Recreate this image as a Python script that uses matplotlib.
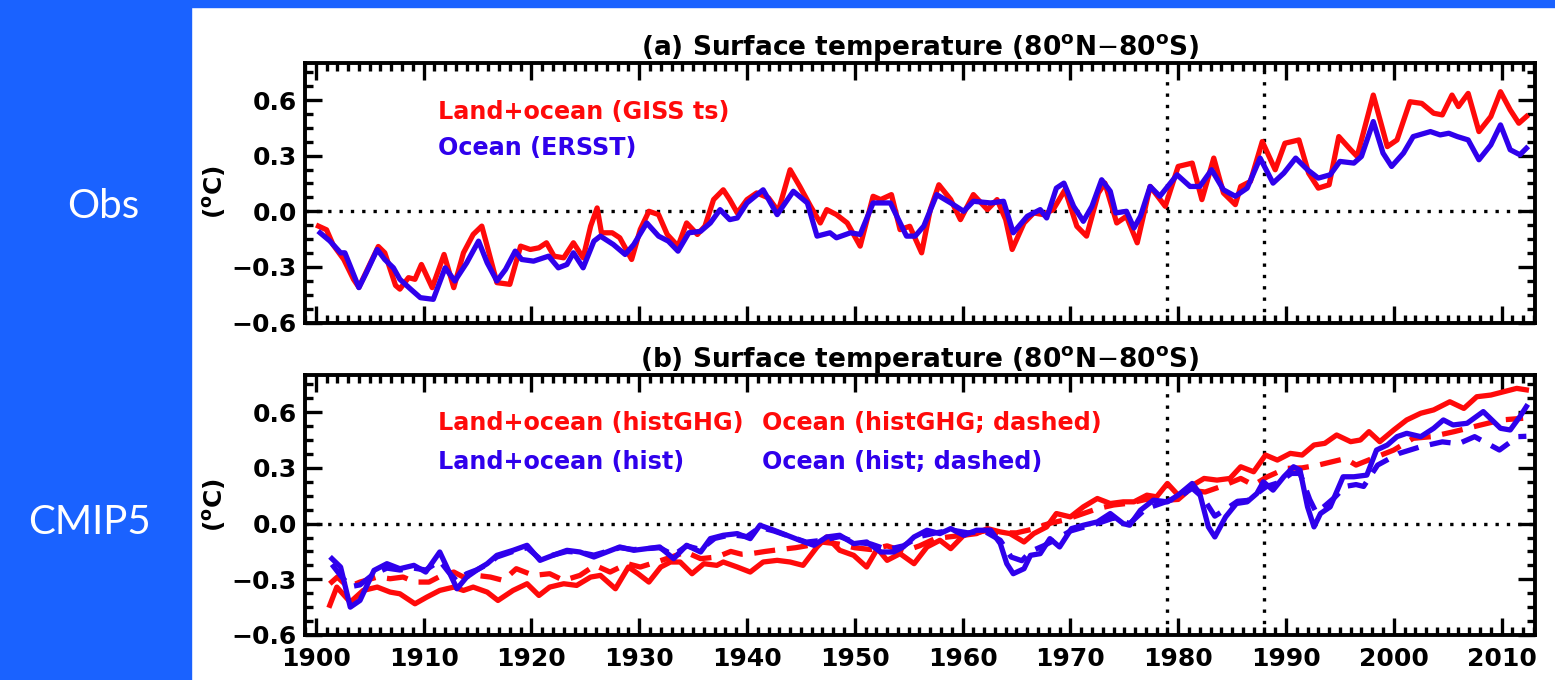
import numpy as np
import matplotlib
matplotlib.use("Agg")
import matplotlib.pyplot as plt
from matplotlib.patches import Rectangle
from matplotlib.ticker import MultipleLocator

# --- Panel (a): observations ---
a_land_yr = [1900.25, 1901.0, 1901.6, 1902.6, 1903.5, 1904.0, 1904.9, 1905.8, 1906.4, 1907.4,
             1907.8, 1908.6, 1909.2, 1909.8, 1910.8, 1911.9, 1912.8, 1913.7, 1914.6, 1915.4,
             1915.9, 1916.8, 1918.0, 1919.0, 1919.9, 1920.7, 1921.4, 1922.1, 1923.0, 1923.9,
             1924.8, 1925.5, 1926.1, 1926.5, 1927.5, 1928.2, 1929.3, 1930.1, 1930.9, 1931.8,
             1932.6, 1933.6, 1934.4, 1935.4, 1936.1, 1936.9, 1937.8, 1938.4, 1939.1, 1940.0,
             1940.9, 1942.0, 1942.9, 1944.0, 1944.9, 1945.9, 1946.8, 1947.4, 1948.3, 1949.3,
             1950.5, 1951.7, 1952.4, 1953.4, 1954.2, 1955.1, 1956.2, 1957.0, 1957.8, 1958.9,
             1959.8, 1961.0, 1962.3, 1963.2, 1964.0, 1964.6, 1965.7, 1966.6, 1967.5, 1968.4,
             1969.5, 1970.6, 1971.5, 1972.6, 1973.2, 1974.3, 1975.2, 1976.2, 1977.4, 1978.8,
             1980.0, 1981.3, 1982.2, 1983.3, 1984.2, 1985.3, 1985.8, 1986.7, 1987.8, 1989.0,
             1989.9, 1991.2, 1992.1, 1993.0, 1994.0, 1994.9, 1996.0, 1996.6, 1998.1, 1999.4,
             2000.3, 2001.5, 2002.6, 2003.7, 2004.5, 2005.4, 2006.0, 2006.9, 2007.9, 2009.0,
             2009.9, 2010.8, 2011.6, 2012.3]
a_land_val = [-0.08, -0.10, -0.18, -0.26, -0.367, -0.41, -0.30, -0.19, -0.224, -0.40,
              -0.42, -0.358, -0.367, -0.287, -0.412, -0.233, -0.412, -0.224, -0.125, -0.08,
              -0.188, -0.385, -0.394, -0.188, -0.206, -0.197, -0.17, -0.242, -0.251, -0.17,
              -0.251, -0.08, 0.018, -0.116, -0.116, -0.143, -0.26, -0.098, 0.0, -0.018,
              -0.125, -0.188, -0.063, -0.125, -0.08, 0.063, 0.116, 0.063, -0.009, 0.063,
              0.099, 0.072, 0.0, 0.224, 0.134, 0.027, -0.063, 0.009, -0.018, -0.063,
              -0.188, 0.081, 0.063, 0.09, -0.099, -0.081, -0.224, 0.009, 0.143, 0.063,
              -0.045, 0.09, 0.009, 0.063, -0.045, -0.206, -0.063, -0.009, -0.018, 0.009,
              0.116, -0.081, -0.134, 0.099, 0.152, -0.063, -0.027, -0.17, 0.134, 0.027,
              0.242, 0.26, 0.063, 0.287, 0.099, 0.036, 0.134, 0.161, 0.376, 0.224,
              0.367, 0.385, 0.206, 0.125, 0.143, 0.403, 0.332, 0.296, 0.627, 0.349,
              0.385, 0.591, 0.582, 0.529, 0.52, 0.627, 0.565, 0.636, 0.43, 0.511,
              0.645, 0.547, 0.475, 0.511]

a_ocean_yr = [1900.4, 1901.3, 1902.3, 1902.7, 1903.2, 1904.0, 1904.7, 1905.7, 1906.4, 1907.2,
              1907.8, 1908.8, 1909.7, 1910.9, 1912.0, 1912.9, 1914.0, 1915.1, 1915.9, 1916.8,
              1917.6, 1918.5, 1919.1, 1920.2, 1921.6, 1922.5, 1923.3, 1923.9, 1924.8, 1925.8,
              1926.4, 1927.6, 1928.7, 1929.5, 1930.7, 1931.8, 1932.7, 1933.6, 1934.6, 1935.7,
              1936.6, 1937.5, 1938.4, 1939.1, 1940.0, 1941.5, 1942.8, 1944.3, 1945.6, 1946.5,
              1947.7, 1948.3, 1949.6, 1950.5, 1951.7, 1953.3, 1954.8, 1955.6, 1956.4, 1957.6,
              1958.9, 1960.1, 1961.0, 1962.6, 1963.8, 1964.7, 1966.0, 1967.2, 1967.8, 1968.7,
              1969.4, 1970.3, 1971.2, 1972.0, 1972.9, 1973.7, 1974.2, 1975.2, 1975.9, 1976.5,
              1977.4, 1978.3, 1979.9, 1981.1, 1982.0, 1983.1, 1984.2, 1985.3, 1986.4, 1987.6,
              1988.8, 1989.8, 1990.9, 1992.0, 1993.0, 1994.1, 1995.0, 1996.3, 1997.0, 1998.1,
              1999.0, 1999.8, 2000.9, 2001.8, 2003.4, 2004.3, 2005.1, 2005.9, 2006.9, 2007.9,
              2009.0, 2009.9, 2010.8, 2011.7, 2012.3]
a_ocean_val = [-0.116, -0.16, -0.224, -0.224, -0.296, -0.412, -0.33, -0.206, -0.26, -0.305,
               -0.367, -0.42, -0.466, -0.475, -0.305, -0.376, -0.278, -0.161, -0.278, -0.376,
               -0.314, -0.215, -0.26, -0.269, -0.242, -0.305, -0.287, -0.224, -0.305, -0.161,
               -0.134, -0.179, -0.233, -0.179, -0.063, -0.134, -0.161, -0.215, -0.116, -0.108,
               -0.063, 0.009, -0.045, -0.036, 0.045, 0.116, -0.018, 0.108, 0.045, -0.134,
               -0.116, -0.143, -0.116, -0.125, 0.045, 0.045, -0.134, -0.134, -0.08, 0.09,
               0.045, 0.0, 0.054, 0.045, 0.054, -0.116, -0.027, 0.009, -0.036, 0.125,
               0.152, 0.027, -0.054, 0.027, 0.17, 0.108, -0.009, 0.0, -0.09, -0.027,
               0.134, 0.081, 0.197, 0.134, 0.134, 0.224, 0.116, 0.081, 0.125, 0.287,
               0.152, 0.206, 0.287, 0.224, 0.179, 0.197, 0.269, 0.26, 0.296, 0.484,
               0.314, 0.242, 0.314, 0.403, 0.43, 0.412, 0.421, 0.403, 0.385, 0.278,
               0.358, 0.466, 0.332, 0.305, 0.34]

# --- Panel (b): CMIP5 multi-model means ---
b_ghg_land_yr = [1901.3, 1901.95, 1903.2, 1904.4, 1905.7, 1906.9, 1907.8, 1909.2, 1910.3, 1911.5,
                 1912.8, 1913.7, 1914.6, 1915.9, 1916.9, 1918.3, 1919.6, 1920.7, 1921.7, 1923.0,
                 1924.2, 1925.5, 1926.4, 1927.8, 1929.0, 1929.9, 1930.9, 1932.0, 1932.9, 1933.8,
                 1934.9, 1936.0, 1937.2, 1937.8, 1939.1, 1940.3, 1941.5, 1942.8, 1944.0, 1945.2,
                 1946.5, 1947.4, 1948.6, 1949.9, 1951.1, 1952.1, 1953.0, 1954.2, 1955.5, 1956.7,
                 1957.9, 1958.9, 1960.1, 1961.3, 1962.3, 1963.5, 1964.4, 1965.7, 1966.6, 1967.8,
                 1968.7, 1970.0, 1971.2, 1972.5, 1973.7, 1974.9, 1975.9, 1977.1, 1978.0, 1979.0,
                 1980.0, 1981.1, 1982.4, 1983.6, 1984.8, 1985.8, 1987.0, 1988.1, 1989.2, 1990.4,
                 1991.5, 1992.6, 1993.6, 1994.7, 1996.0, 1996.9, 1997.7, 1998.7, 2000.0, 2001.2,
                 2002.5, 2003.7, 2005.2, 2006.5, 2007.7, 2009.0, 2010.2, 2011.4, 2012.3]
b_ghg_land_val = [-0.44, -0.342, -0.423, -0.36, -0.342, -0.369, -0.378, -0.432, -0.396, -0.36,
                  -0.342, -0.36, -0.342, -0.369, -0.414, -0.36, -0.324, -0.387, -0.342, -0.324,
                  -0.333, -0.288, -0.279, -0.351, -0.234, -0.27, -0.315, -0.234, -0.207, -0.207,
                  -0.27, -0.216, -0.225, -0.207, -0.234, -0.261, -0.207, -0.198, -0.207, -0.225,
                  -0.126, -0.072, -0.144, -0.171, -0.234, -0.135, -0.198, -0.162, -0.216, -0.126,
                  -0.09, -0.135, -0.063, -0.054, -0.027, -0.045, -0.054, -0.099, -0.054, -0.018,
                  0.054, 0.036, 0.09, 0.135, 0.108, 0.117, 0.117, 0.153, 0.144, 0.216,
                  0.153, 0.198, 0.243, 0.234, 0.243, 0.306, 0.279, 0.369, 0.342, 0.378,
                  0.369, 0.423, 0.432, 0.477, 0.441, 0.45, 0.495, 0.441, 0.504, 0.558,
                  0.594, 0.612, 0.656, 0.62, 0.683, 0.692, 0.71, 0.728, 0.72]

b_ghg_ocean_yr = [1901.3, 1902.0, 1903.0, 1904.1, 1905.7, 1906.9, 1908.1, 1909.2, 1910.5, 1911.7,
                  1912.8, 1913.7, 1914.9, 1916.2, 1917.4, 1918.6, 1920.2, 1921.7, 1923.0, 1924.5,
                  1925.9, 1927.3, 1928.9, 1930.1, 1931.6, 1933.0, 1934.3, 1935.7, 1937.2, 1938.5,
                  1939.5, 1940.6, 1941.7, 1943.0, 1944.5, 1945.5, 1947.0, 1948.5, 1950.0, 1951.5,
                  1953.0, 1954.5, 1956.0, 1957.5, 1959.0, 1960.5, 1962.0, 1963.5, 1965.0, 1966.5,
                  1968.0, 1969.5, 1971.0, 1972.5, 1974.0, 1975.5, 1977.0, 1978.5, 1980.0, 1981.0,
                  1982.5, 1984.0, 1985.8, 1987.0, 1988.2, 1990.0, 1991.5, 1993.0, 1995.5, 1996.5,
                  1998.0, 2000.0, 2001.8, 2003.5, 2005.6, 2008.0, 2010.0, 2012.0]
b_ghg_ocean_val = [-0.324, -0.288, -0.342, -0.315, -0.288, -0.297, -0.288, -0.315, -0.315, -0.279,
                   -0.261, -0.288, -0.279, -0.288, -0.306, -0.243, -0.279, -0.27, -0.306, -0.279,
                   -0.225, -0.261, -0.216, -0.234, -0.207, -0.18, -0.153, -0.189, -0.18, -0.15,
                   -0.165, -0.16, -0.15, -0.14, -0.13, -0.12, -0.10, -0.11, -0.13, -0.14,
                   -0.12, -0.15, -0.12, -0.08, -0.07, -0.06, -0.04, -0.05, -0.05, -0.03,
                   0.0, 0.02, 0.05, 0.08, 0.10, 0.11, 0.13, 0.125, 0.13, 0.18,
                   0.17, 0.20, 0.243, 0.207, 0.25, 0.297, 0.30, 0.315, 0.35, 0.315,
                   0.35, 0.396, 0.459, 0.468, 0.495, 0.53, 0.558, 0.567]

b_hist_land_yr = [1901.5, 1902.3, 1903.2, 1904.1, 1905.4, 1906.6, 1907.8, 1909.1, 1910.2, 1911.5,
                  1912.3, 1913.1, 1914.0, 1914.9, 1915.9, 1916.8, 1918.3, 1919.6, 1920.8, 1922.0,
                  1923.3, 1924.5, 1925.8, 1927.0, 1928.2, 1929.5, 1930.7, 1931.9, 1933.2, 1934.4,
                  1935.7, 1936.6, 1937.8, 1939.1, 1940.3, 1941.2, 1942.5, 1943.7, 1944.9, 1946.2,
                  1947.4, 1948.6, 1949.9, 1951.1, 1952.4, 1953.6, 1954.5, 1955.5, 1956.7, 1957.9,
                  1958.9, 1960.1, 1961.3, 1962.6, 1963.5, 1964.1, 1964.7, 1965.7, 1966.3, 1967.2,
                  1968.1, 1969.0, 1970.1, 1971.2, 1972.5, 1973.7, 1974.9, 1975.5, 1976.5, 1977.7,
                  1979.0, 1980.0, 1981.3, 1982.0, 1982.8, 1983.4, 1984.4, 1985.4, 1986.4, 1987.3,
                  1987.9, 1988.8, 1989.8, 1990.7, 1991.3, 1992.0, 1992.6, 1993.2, 1994.1, 1995.3,
                  1996.3, 1997.5, 1998.4, 1999.4, 2000.3, 2001.2, 2002.5, 2003.7, 2004.6, 2005.5,
                  2006.8, 2008.3, 2009.9, 2010.8, 2011.7, 2012.3]
b_hist_land_val = [-0.189, -0.234, -0.45, -0.414, -0.252, -0.216, -0.243, -0.225, -0.261, -0.153,
                   -0.252, -0.351, -0.288, -0.252, -0.216, -0.171, -0.144, -0.117, -0.198, -0.171,
                   -0.144, -0.153, -0.18, -0.153, -0.126, -0.144, -0.135, -0.126, -0.189, -0.117,
                   -0.153, -0.081, -0.063, -0.054, -0.081, -0.009, -0.036, -0.063, -0.09, -0.117,
                   -0.072, -0.063, -0.108, -0.099, -0.153, -0.153, -0.126, -0.072, -0.036, -0.054,
                   -0.027, -0.063, -0.036, -0.036, -0.108, -0.216, -0.27, -0.243, -0.171, -0.162,
                   -0.081, -0.126, -0.027, -0.009, 0.009, 0.054, 0.0, -0.009, 0.072, 0.126,
                   0.117, 0.153, 0.216, 0.162, -0.018, -0.072, 0.036, 0.108, 0.117, 0.162,
                   0.225, 0.18, 0.252, 0.306, 0.288, 0.09, -0.018, 0.054, 0.09, 0.252,
                   0.252, 0.261, 0.396, 0.423, 0.468, 0.486, 0.468, 0.513, 0.558, 0.531,
                   0.54, 0.603, 0.513, 0.504, 0.576, 0.63]

b_hist_ocean_yr = [1901.5, 1902.3, 1903.2, 1904.1, 1905.4, 1906.6, 1907.8, 1909.1, 1910.2, 1911.5,
                   1912.3, 1913.1, 1914.0, 1914.9, 1915.9, 1916.8, 1918.3, 1919.6, 1920.8, 1922.0,
                   1923.3, 1924.5, 1925.8, 1927.0, 1928.2, 1929.5, 1930.7, 1931.9, 1933.2, 1934.4,
                   1935.7, 1937.0, 1938.5, 1940.0, 1941.2, 1942.5, 1944.0, 1945.5, 1947.0, 1948.6,
                   1950.0, 1951.5, 1953.0, 1954.5, 1956.0, 1957.5, 1959.0, 1960.5, 1962.0, 1963.5,
                   1964.5, 1965.5, 1966.3, 1967.5, 1968.5, 1970.0, 1971.2, 1972.5, 1974.0, 1975.5,
                   1977.0, 1978.5, 1980.0, 1981.3, 1982.3, 1983.4, 1984.5, 1985.5, 1986.5, 1987.5,
                   1988.2, 1989.3, 1990.5, 1991.3, 1992.2, 1992.8, 1993.5, 1994.5, 1995.5, 1996.5,
                   1997.2, 1998.5, 2000.5, 2002.5, 2004.5, 2006.0, 2007.5, 2009.8, 2011.5, 2012.3]
b_hist_ocean_val = [-0.22, -0.28, -0.34, -0.33, -0.27, -0.24, -0.25, -0.24, -0.25, -0.20,
                    -0.26, -0.31, -0.27, -0.25, -0.22, -0.18, -0.15, -0.13, -0.19, -0.17,
                    -0.15, -0.155, -0.17, -0.15, -0.13, -0.14, -0.135, -0.13, -0.17, -0.12,
                    -0.14, -0.08, -0.06, -0.07, -0.02, -0.04, -0.07, -0.10, -0.09, -0.07,
                    -0.10, -0.11, -0.14, -0.12, -0.07, -0.05, -0.035, -0.05, -0.04, -0.09,
                    -0.18, -0.20, -0.15, -0.12, -0.09, -0.04, -0.02, 0.0, 0.03, 0.0,
                    0.08, 0.11, 0.14, 0.19, 0.14, 0.04, 0.08, 0.12, 0.125, 0.17,
                    0.20, 0.22, 0.27, 0.27, 0.13, 0.06, 0.09, 0.14, 0.20, 0.21,
                    0.20, 0.315, 0.378, 0.414, 0.44, 0.43, 0.468, 0.396, 0.468, 0.47]

# marker years drawn as dotted verticals
event_years = [1979, 1988]

RED = '#ff0a0a'
BLUE = '#2f00ec'
PANEL_BLUE = '#1a62ff'

fig = plt.figure(figsize=(15.55, 6.8), dpi=100)
fig.patches.append(Rectangle((0, 0), 191 / 1555, 1, transform=fig.transFigure,
                             color=PANEL_BLUE, zorder=0))
fig.patches.append(Rectangle((0, 1 - 7 / 680), 1, 7 / 680, transform=fig.transFigure,
                             color=PANEL_BLUE, zorder=0))

ax_a = fig.add_axes([305 / 1555, 1 - 322.5 / 680, 1230 / 1555, 259.5 / 680])
ax_b = fig.add_axes([305 / 1555, 1 - 635 / 680, 1230 / 1555, 260 / 680])

ax_a.plot(a_land_yr, a_land_val, color=RED, lw=3.8, zorder=3)
ax_a.plot(a_ocean_yr, a_ocean_val, color=BLUE, lw=3.8, zorder=4)

ax_b.plot(b_ghg_land_yr, b_ghg_land_val, color=RED, lw=3.8, zorder=3)
ax_b.plot(b_ghg_ocean_yr, b_ghg_ocean_val, color=RED, lw=3.8, dashes=(4, 2.2), zorder=3)
ax_b.plot(b_hist_land_yr, b_hist_land_val, color=BLUE, lw=3.8, zorder=4)
ax_b.plot(b_hist_ocean_yr, b_hist_ocean_val, color=BLUE, lw=3.8, dashes=(4, 2.2), zorder=4)

titles = ['(a) Surface temperature (80$^{\\bf o}$N$-$80$^{\\bf o}$S)',
          '(b) Surface temperature (80$^{\\bf o}$N$-$80$^{\\bf o}$S)']

for ax, title in zip([ax_a, ax_b], titles):
    ax.set_xlim(1899, 2013.1)
    ax.set_ylim(-0.6, 0.8)
    ax.axhline(0, color='black', lw=2.4, ls=(0, (1, 2.4)), zorder=2)
    for yr in event_years:
        ax.axvline(yr, color='black', lw=2.4, ls=(0, (1, 2.4)), zorder=2)
    ax.set_yticks([-0.6, -0.3, 0.0, 0.3, 0.6])
    ax.yaxis.set_minor_locator(MultipleLocator(0.075))
    ax.xaxis.set_major_locator(MultipleLocator(10))
    ax.xaxis.set_minor_locator(MultipleLocator(1))
    ax.tick_params(which='major', direction='in', length=12, width=2.4,
                   top=True, right=True, labelsize=18, pad=6)
    ax.tick_params(which='minor', direction='in', length=6, width=2.4,
                   top=True, right=True)
    for s in ax.spines.values():
        s.set_linewidth(2.8)
    for lab in ax.get_xticklabels() + ax.get_yticklabels():
        lab.set_fontweight('bold')
    ax.set_title(title, fontsize=19, fontweight='bold', pad=6)

ax_a.tick_params(labelbottom=False)
ax_b.tick_params(axis='x', pad=9)

# y-axis labels
for yc in [192, 505]:
    fig.text(214 / 1555, 1 - yc / 680, '($^{\\bf o}$C)', rotation=90, ha='center',
             va='center', fontsize=18, fontweight='bold')

# in-plot legends
ax_a.text(0.108, 0.811, 'Land+ocean (GISS ts)', color=RED, transform=ax_a.transAxes,
          fontsize=17.2, fontweight='bold', va='center')
ax_a.text(0.108, 0.672, 'Ocean (ERSST)', color=BLUE, transform=ax_a.transAxes,
          fontsize=17.2, fontweight='bold', va='center')
ax_b.text(0.108, 0.815, 'Land+ocean (histGHG)', color=RED, transform=ax_b.transAxes,
          fontsize=17.2, fontweight='bold', va='center')
ax_b.text(0.108, 0.665, 'Land+ocean (hist)', color=BLUE, transform=ax_b.transAxes,
          fontsize=17.2, fontweight='bold', va='center')
ax_b.text(0.3715, 0.815, 'Ocean (histGHG; dashed)', color=RED, transform=ax_b.transAxes,
          fontsize=17.2, fontweight='bold', va='center')
ax_b.text(0.3715, 0.665, 'Ocean (hist; dashed)', color=BLUE, transform=ax_b.transAxes,
          fontsize=17.2, fontweight='bold', va='center')

# side labels on the blue strip
fig.text(103 / 1555, 1 - 207 / 680, 'Obs', color='white', fontsize=29,
         family='Lato', ha='center', va='center')
fig.text(90 / 1555, 1 - 522 / 680, 'CMIP5', color='white', fontsize=29,
         family='Lato', ha='center', va='center')

fig.savefig('out.png', dpi=100)
